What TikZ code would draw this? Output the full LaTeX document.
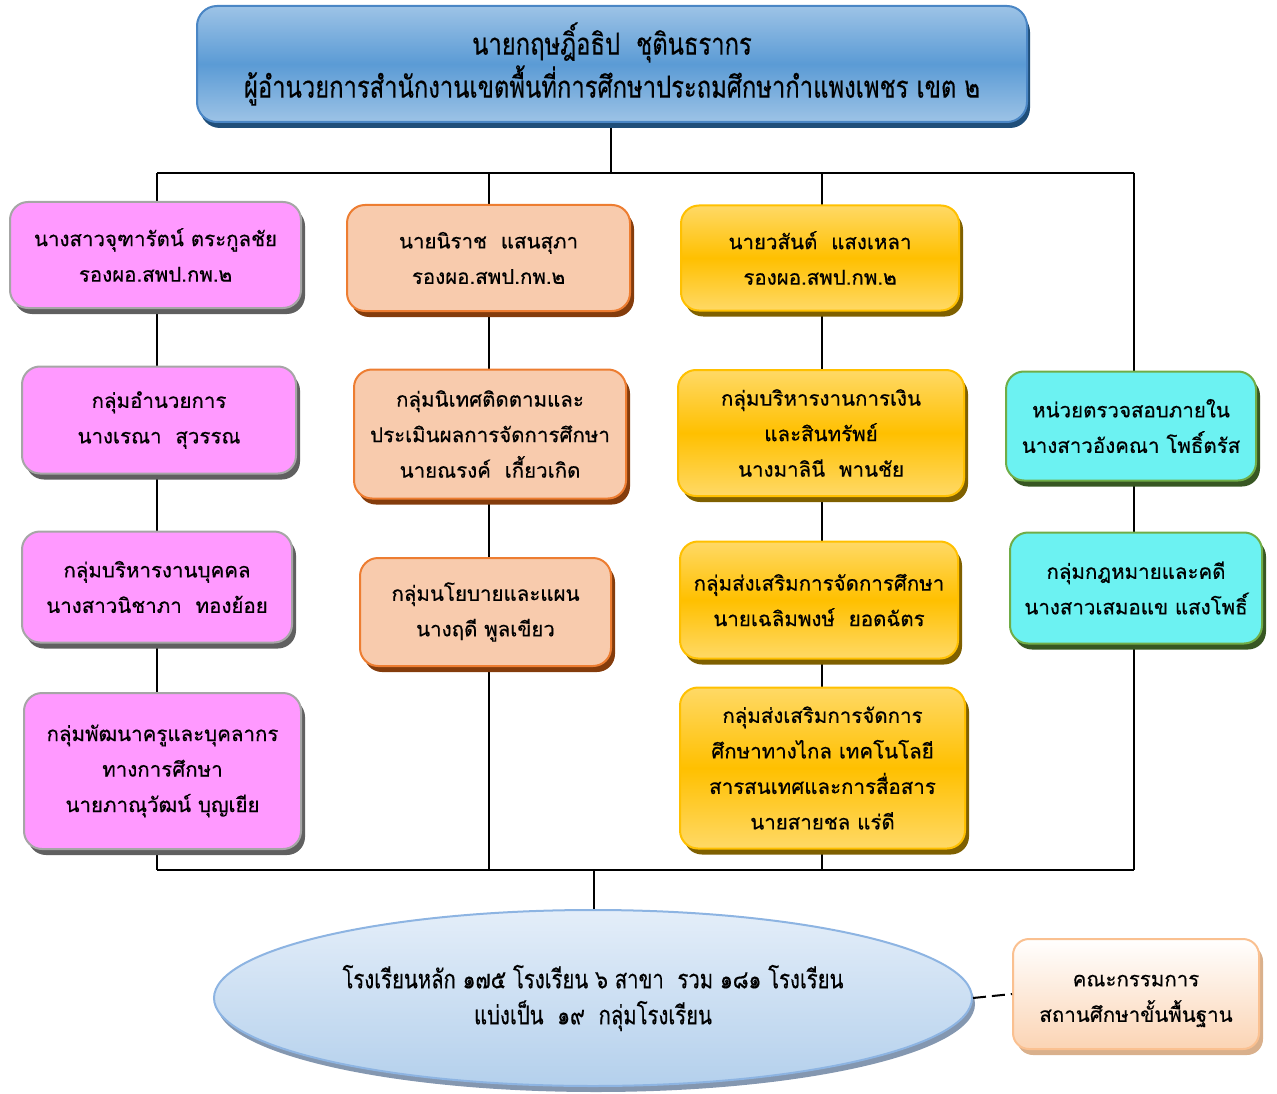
\documentclass[tikz,border=0pt]{standalone}
\usepackage{fontspec}
\newfontfamily\thai[Script=Thai,FakeBold=0.5]{Loma}
\newfontfamily\thainarrow[Script=Thai,FakeStretch=0.78,FakeBold=0.4]{Loma}
\usetikzlibrary{shadows,backgrounds,shapes.geometric}
\definecolor{pinkF}{HTML}{FF99FF}
\definecolor{pinkB}{HTML}{A6A6A6}
\definecolor{pinkS}{HTML}{606060}
\definecolor{orF}{HTML}{F8CBAD}
\definecolor{orB}{HTML}{ED7D31}
\definecolor{orS}{HTML}{843C0C}
\definecolor{goF}{HTML}{FFC000}
\definecolor{goL}{HTML}{FFD966}
\definecolor{goB}{HTML}{FFC000}
\definecolor{goS}{HTML}{7F6000}
\definecolor{cyF}{HTML}{6CF2F2}
\definecolor{cyB}{HTML}{70AD47}
\definecolor{cyS}{HTML}{385723}
\definecolor{blL}{HTML}{9DC3E6}
\definecolor{blM}{HTML}{5B9BD5}
\definecolor{blB}{HTML}{4A86C5}
\definecolor{blS}{HTML}{1F4E79}
\definecolor{elL}{HTML}{E4EEF9}
\definecolor{elD}{HTML}{B4D0EC}
\definecolor{elB}{HTML}{8DB4E2}
\definecolor{elS}{HTML}{8497B0}
\definecolor{peB}{HTML}{FAC090}
\definecolor{peF}{HTML}{FBD4B4}
\definecolor{peS}{HTML}{D9B08C}
\tikzset{
  box/.style={rectangle, rounded corners=18pt, line width=2pt, align=center,
    inner sep=0pt, font=\thai\fontsize{20.5}{35.5}\selectfont},
  pinkbox/.style={box, draw=pinkB, fill=pinkF,
    general shadow={shadow xshift=4pt, shadow yshift=-6pt, fill=pinkS}},
  orbox/.style={box, draw=orB, fill=orF,
    general shadow={shadow xshift=4pt, shadow yshift=-6pt, fill=orS}},
  gobox/.style={box, draw=goB, top color=goL, bottom color=goL, middle color=goF,
    general shadow={shadow xshift=4pt, shadow yshift=-6pt, fill=goS}},
  cybox/.style={box, draw=cyB, fill=cyF,
    general shadow={shadow xshift=4pt, shadow yshift=-6pt, fill=cyS}},
  conn/.style={line width=1.4pt, black},
}
\begin{document}
\begin{tikzpicture}[x=1pt,y=-1pt]
\useasboundingbox (0,0) rectangle (1277,1094);
% top
\node[box, draw=blB, top color=blL, bottom color=blL, middle color=blM,
  rounded corners=20pt, font=\thainarrow\fontsize{30.5}{43}\selectfont,
  general shadow={shadow xshift=3pt, shadow yshift=-6pt, fill=blS},
  minimum width=830pt, minimum height=116pt] (top) at (612,64)
  {นายกฤษฎิ์อธิป\ \ ชุตินธรากร\\ผู้อำนวยการสำนักงานเขตพื้นที่การศึกษาประถมศึกษากำแพงเพชร เขต ๒};
% column A
\node[pinkbox, minimum width=291pt, minimum height=106pt] (a1) at (155.5,255)
  {นางสาวจุฑารัตน์ ตระกูลชัย\\รองผอ.สพป.กพ.๒};
\node[pinkbox, minimum width=274pt, minimum height=107pt] (a2) at (159,420)
  {กลุ่มอำนวยการ\\นางเรณา\ \ สุวรรณ};
\node[pinkbox, minimum width=270pt, minimum height=111pt] (a3) at (157,587)
  {กลุ่มบริหารงานบุคคล\\นางสาวนิชาภา\ \ ทองย้อย};
\node[pinkbox, minimum width=277pt, minimum height=156pt] (a4) at (162.5,771)
  {กลุ่มพัฒนาครูและบุคลากร\\ทางการศึกษา\\นายภาณุวัฒน์ บุญเยีย};
% column B
\node[orbox, minimum width=283pt, minimum height=106pt] (b1) at (488.5,258)
  {นายนิราช\ \ แสนสุภา\\รองผอ.สพป.กพ.๒};
\node[orbox, minimum width=272pt, minimum height=129pt] (b2) at (490,434)
  {กลุ่มนิเทศติดตามและ\\ประเมินผลการจัดการศึกษา\\นายณรงค์\ \ เกี้ยวเกิด};
\node[orbox, minimum width=251pt, minimum height=108pt] (b3) at (485.5,612)
  {กลุ่มนโยบายและแผน\\นางฤดี พูลเขียว};
% column C
\node[gobox, minimum width=278pt, minimum height=105pt] (c1) at (820,258)
  {นายวสันต์\ \ แสงเหลา\\รองผอ.สพป.กพ.๒};
\node[gobox, minimum width=286pt, minimum height=126pt] (c2) at (821,433)
  {กลุ่มบริหารงานการเงิน\\และสินทรัพย์\\นางมาลินี\ \ พานชัย};
\node[gobox, minimum width=278pt, minimum height=117pt] (c3) at (819,600)
  {กลุ่มส่งเสริมการจัดการศึกษา\\นายเฉลิมพงษ์\ \ ยอดฉัตร};
\node[gobox, minimum width=285pt, minimum height=161pt] (c4) at (822.5,768)
  {กลุ่มส่งเสริมการจัดการ\\ศึกษาทางไกล เทคโนโลยี\\สารสนเทศและการสื่อสาร\\นายสายชล แร่ดี};
% column D
\node[cybox, minimum width=250pt, minimum height=109pt] (d1) at (1131,426)
  {หน่วยตรวจสอบภายใน\\นางสาวอังคณา โพธิ์ตรัส};
\node[cybox, minimum width=252pt, minimum height=111pt] (d2) at (1136,588)
  {กลุ่มกฎหมายและคดี\\นางสาวเสมอแข แสงโพธิ์};
% bottom
\node[ellipse, draw=elB, line width=2pt, left color=elL, right color=elD,
  shading angle=0, inner sep=0pt,
  general shadow={shadow xshift=3pt, shadow yshift=-6pt, fill=elS},
  minimum width=758pt, minimum height=176pt, align=center,
  font=\thainarrow\fontsize{26}{36}\selectfont] (sch) at (593,998)
  {โรงเรียนหลัก ๑๗๕ โรงเรียน ๖ สาขา\ \ รวม ๑๘๑ โรงเรียน\\แบ่งเป็น\ \ ๑๙\ \ กลุ่มโรงเรียน};
\node[box, draw=peB, top color=white, bottom color=peF, rounded corners=16pt,
  general shadow={shadow xshift=4pt, shadow yshift=-6pt, fill=peS},
  minimum width=246pt, minimum height=110pt,
  label={[yshift=-7pt, align=center, inner sep=0pt,
    font=\thai\fontsize{20.5}{35.5}\selectfont]center:{คณะกรรมการ\\สถานศึกษาขั้นพื้นฐาน}}]
  (com) at (1136,994) {};
% connectors
\coordinate (hubT) at (611,173);
\coordinate (tA) at (157,173);
\coordinate (tD) at (1134,173);
\coordinate (bA) at (157,870);
\coordinate (bD) at (1134,870);
\coordinate (hubB) at (594,870);
\coordinate (tB) at (489,173);
\coordinate (tC) at (822,173);
\coordinate (bB) at (489,870);
\coordinate (bC) at (822,870);
\begin{pgfonlayer}{background}
\draw[conn] (top.south -| hubT) -- (hubT);
\draw[conn] (tA) -- (tD);
\draw[conn] (bA) -- (bD);
\draw[conn] (tA) -- (bA);
\draw[conn] (tB) -- (bB);
\draw[conn] (tC) -- (bC);
\draw[conn] (tD) -- (bD);
\draw[conn] (hubB) -- (sch.north -| hubB);
\end{pgfonlayer}
\draw[line width=2pt, dash pattern=on 13pt off 6pt] (sch.east) -- (com.west);
\end{tikzpicture}
\end{document}
